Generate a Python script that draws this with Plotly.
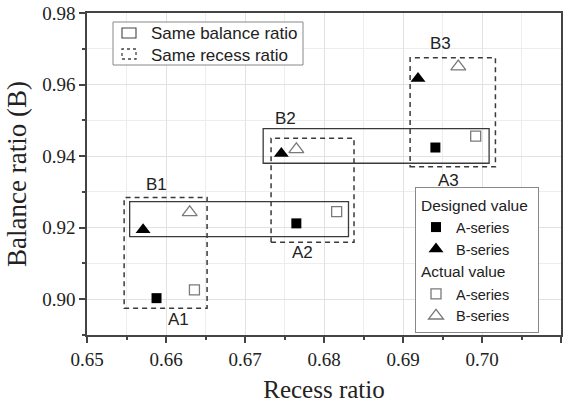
import plotly.graph_objects as go

# ---------------- data ----------------
recess_A_design = [0.6588, 0.6765, 0.6941]
balance_A_design = [0.9003, 0.9212, 0.9424]
recess_B_design = [0.6571, 0.6746, 0.6919]
balance_B_design = [0.9194, 0.9407, 0.9617]
recess_A_actual = [0.6636, 0.6816, 0.6992]
balance_A_actual = [0.9026, 0.9245, 0.9456]
recess_B_actual = [0.6630, 0.6765, 0.6970]
balance_B_actual = [0.9243, 0.9419, 0.9650]

# groups: same balance ratio (solid boxes) [x0, x1, y0, y1]
same_balance_boxes = [
    [0.6554, 0.6831, 0.9175, 0.9273],
    [0.6723, 0.7009, 0.9380, 0.9477],
]
# same recess ratio (dashed boxes)
same_recess_boxes = [
    [0.6547, 0.6652, 0.8975, 0.9284],
    [0.6733, 0.6838, 0.9159, 0.9450],
    [0.6909, 0.7017, 0.9370, 0.9675],
]
group_labels = ["B1", "B2", "B3", "A1", "A2", "A3"]
label_x = [0.6588, 0.6751, 0.6948, 0.6616, 0.6773, 0.6957]
label_y = [0.9320, 0.9505, 0.9714, 0.8942, 0.9130, 0.9333]

x_ticks = [0.65, 0.66, 0.67, 0.68, 0.69, 0.70, 0.71]
y_ticks = [0.90, 0.92, 0.94, 0.96, 0.98]

# ---------------- figure ----------------
W, H = 576, 405
ML, MR, MT, MB = 87, 15, 13, 70
PW, PH = W - ML - MR, H - MT - MB


def px(x):
    return (x - ML) / PW


def py(y):
    return (H - MB - y) / PH


fig = go.Figure()

fig.add_trace(go.Scatter(
    x=recess_A_design, y=balance_A_design, mode="markers", name="A-series",
    legendgroup="design", legendgrouptitle=dict(text="Designed value"),
    marker=dict(symbol="square", size=10, color="black")))
fig.add_trace(go.Scatter(
    x=recess_B_design, y=balance_B_design, mode="markers", name="B-series",
    legendgroup="design",
    marker=dict(symbol="triangle-up", size=13, color="black")))
fig.add_trace(go.Scatter(
    x=recess_A_actual, y=balance_A_actual, mode="markers", name="A-series",
    legendgroup="actual", legendgrouptitle=dict(text="Actual value"),
    marker=dict(symbol="square-open", size=10, color="#7a7a7a",
                line=dict(width=1.3))))
fig.add_trace(go.Scatter(
    x=recess_B_actual, y=balance_B_actual, mode="markers", name="B-series",
    legendgroup="actual",
    marker=dict(symbol="triangle-up-open", size=13, color="#7a7a7a",
                line=dict(width=1.3))))

shapes = []
for x0, x1, y0, y1 in same_balance_boxes:
    shapes.append(dict(type="rect", xref="x", yref="y", x0=x0, x1=x1, y0=y0, y1=y1,
                       line=dict(color="#3a3a3a", width=1.3)))
for x0, x1, y0, y1 in same_recess_boxes:
    shapes.append(dict(type="rect", xref="x", yref="y", x0=x0, x1=x1, y0=y0, y1=y1,
                       line=dict(color="#3a3a3a", width=1.5, dash="5px,4px")))

# manual legend for the boxes (top-left)
shapes.append(dict(type="rect", xref="paper", yref="paper",
                   x0=px(113), x1=px(303), y0=py(65), y1=py(22),
                   line=dict(color="#888888", width=1), fillcolor="white"))
shapes.append(dict(type="rect", xref="paper", yref="paper",
                   x0=px(122), x1=px(136), y0=py(38), y1=py(28),
                   line=dict(color="#444444", width=1.1)))
shapes.append(dict(type="rect", xref="paper", yref="paper",
                   x0=px(122), x1=px(136), y0=py(59), y1=py(49),
                   line=dict(color="#444444", width=1.3, dash="3px,3px")))

annotations = []
for t, lx, ly in zip(group_labels, label_x, label_y):
    annotations.append(dict(x=lx, y=ly, xref="x", yref="y", text=t, showarrow=False,
                            font=dict(family="Liberation Sans", size=17, color="#222222")))
annotations.append(dict(x=px(149), y=py(33), xref="paper", yref="paper",
                        text="Same balance ratio", showarrow=False,
                        xanchor="left", yanchor="middle",
                        font=dict(family="Liberation Sans", size=17, color="#222222")))
annotations.append(dict(x=px(149), y=py(55), xref="paper", yref="paper",
                        text="Same recess ratio", showarrow=False,
                        xanchor="left", yanchor="middle",
                        font=dict(family="Liberation Sans", size=17, color="#222222")))

axis_common = dict(
    ticks="outside", ticklen=6, tickwidth=1.5, tickcolor="#444444",
    showline=True, linecolor="#444444", linewidth=1.6, mirror=True,
    showgrid=True, gridcolor="#e2e2e2", gridwidth=1, zeroline=False,
    automargin=False,
    tickfont=dict(family="Liberation Serif", size=19, color="#222222"),
)

fig.update_layout(
    width=W, height=H,
    margin=dict(l=ML, r=MR, t=MT, b=MB),
    plot_bgcolor="white", paper_bgcolor="white",
    shapes=shapes, annotations=annotations,
    xaxis=dict(range=[0.65, 0.71], tickvals=x_ticks, tickformat=".2f",
               minor=dict(dtick=0.005, tick0=0.65, ticks="outside", ticklen=3,
                          tickcolor="#444444", showgrid=True, gridcolor="#ededed"),
               title=dict(text="Recess ratio", standoff=12,
                          font=dict(family="Liberation Serif", size=25, color="#222222")),
               **axis_common),
    yaxis=dict(range=[0.89, 0.98], tickvals=y_ticks, tickformat=".2f",
               minor=dict(dtick=0.01, tick0=0.89, ticks="outside", ticklen=3,
                          tickcolor="#444444", showgrid=True, gridcolor="#ededed"),
               title=dict(text="Balance ratio (B)", standoff=8,
                          font=dict(family="Liberation Serif", size=27, color="#222222")),
               **axis_common),
    legend=dict(x=px(539), y=py(333), xanchor="right", yanchor="bottom",
                bordercolor="#888888", borderwidth=1, bgcolor="white",
                tracegroupgap=0, itemwidth=30,
                font=dict(family="Liberation Sans", size=14.5, color="#222222"),
                grouptitlefont=dict(family="Liberation Sans", size=15.5, color="#222222")),
    showlegend=True,
)

fig.write_html("out.html")
